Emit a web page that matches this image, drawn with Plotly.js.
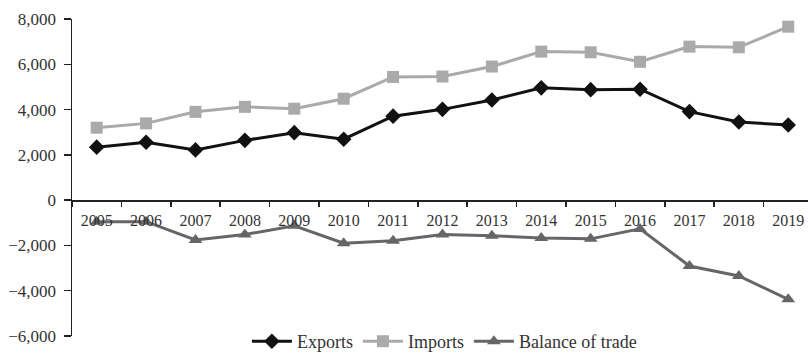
<!DOCTYPE html>
<html><head><meta charset="utf-8">
<script src="https://cdn.plot.ly/plotly-3.0.1.min.js"></script>
<style>html,body{margin:0;padding:0;background:#fff}#chart{width:808px;height:360px}</style>
</head><body><div id="chart"></div>
<script>
const years = ['2005','2006','2007','2008','2009','2010','2011','2012','2013','2014','2015','2016','2017','2018','2019'];
const exportsVals = [2340, 2560, 2220, 2640, 2980, 2690, 3710, 4010, 4420, 4960, 4880, 4900, 3910, 3450, 3320];
const importsVals = [3200, 3390, 3900, 4120, 4040, 4480, 5440, 5460, 5900, 6560, 6530, 6110, 6780, 6750, 7660];
const balanceVals = [-950, -950, -1760, -1520, -1130, -1900, -1790, -1520, -1570, -1670, -1710, -1270, -2910, -3350, -4380];

const yMin = -6000, yMax = 8000;
const traces = [
  {x: years, y: exportsVals, name: 'Exports', type: 'scatter', mode: 'lines+markers',
   line: {color: '#111111', width: 3}, marker: {symbol: 'diamond', size: 12, color: '#111111'}},
  {x: years, y: importsVals, name: 'Imports', type: 'scatter', mode: 'lines+markers',
   line: {color: '#aaaaaa', width: 3}, marker: {symbol: 'square', size: 12, color: '#aaaaaa'}},
  {x: years, y: balanceVals, name: 'Balance of trade', type: 'scatter', mode: 'lines+markers',
   line: {color: '#666666', width: 3}, marker: {symbol: 'triangle-up', size: 12, color: '#666666'}}
];
const layout = {
  width: 808, height: 360,
  margin: {l: 72, r: 0, t: 19, b: 24, autoexpand: false},
  paper_bgcolor: '#fff', plot_bgcolor: '#fff',
  font: {family: '"Liberation Serif", "DejaVu Serif", serif', size: 15, color: '#333'},
  showlegend: true,
  legend: {orientation: 'h', x: 0.55, xanchor: 'center', xref: 'container', yref: 'container', y: -0.04, yanchor: 'bottom',
           itemwidth: 40, font: {size: 18, color: '#333'}, tracegroupgap: 0},
  xaxis: {type: 'category', range: [-0.5, 14.4], anchor: 'free', position: (0 - yMin) / (yMax - yMin),
          showline: true, linecolor: '#222', linewidth: 1.5, showgrid: false, zeroline: false,
          ticks: 'outside', ticklen: 5, tickcolor: '#222', tickwidth: 1.5, tickson: 'boundaries',
          ticklabelstandoff: 5, tickfont: {size: 16, color: '#333'}},
  yaxis: {range: [yMin, yMax], dtick: 2000, tickformat: ',', showline: true, linecolor: '#222', linewidth: 1.5,
          showgrid: false, zeroline: false, ticks: 'outside', ticklen: 7, tickcolor: '#222', tickwidth: 1.5,
          ticklabelstandoff: 4, tickfont: {size: 17, color: '#333'}}
};
Plotly.newPlot('chart', traces, layout, {displayModeBar: false, staticPlot: true});
</script></body></html>
